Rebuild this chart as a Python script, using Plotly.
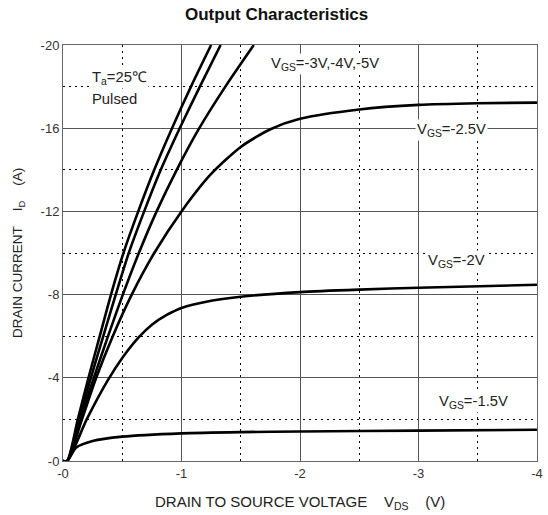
import plotly.graph_objects as go

# V_DS (V) and I_D (A), one pair of lists per V_GS curve
vds_15 = [0, -0.035, -0.11, -0.25, -0.5, -1.0, -1.5, -2.0, -3.0, -4.0]
id_15 = [0, 0, -0.64, -0.96, -1.17, -1.33, -1.39, -1.42, -1.46, -1.5]

vds_20 = [0, -0.035, -0.2, -0.375, -0.5, -0.64, -0.75, -0.875, -1.0, -1.25, -1.5, -2.0, -2.5, -3.0, -4.0]
id_20 = [0, 0, -2.0, -3.85, -4.95, -5.95, -6.55, -7.02, -7.36, -7.7, -7.9, -8.12, -8.24, -8.33, -8.47]

vds_25 = [0, -0.035, -0.16, -0.28, -0.42, -0.58, -0.77, -1.0, -1.25, -1.5, -1.75, -2.0, -2.5, -3.0, -3.5, -4.0]
id_25 = [0, 0, -2.0, -4.0, -6.0, -8.0, -10.0, -12.0, -13.8, -15.1, -15.95, -16.45, -16.9, -17.12, -17.2, -17.23]

vds_30 = [0, -0.035, -0.145, -0.26, -0.38, -0.505, -0.64, -0.79, -0.96, -1.15, -1.37, -1.61]
id_30 = [0, 0, -2.0, -4.0, -6.0, -8.0, -10.0, -12.0, -14.0, -16.0, -18.0, -20.0]

vds_40 = [0, -0.035, -0.135, -0.235, -0.34, -0.445, -0.555, -0.685, -0.825, -0.985, -1.155, -1.33]
id_40 = [0, 0, -2.0, -4.0, -6.0, -8.0, -10.0, -12.0, -14.0, -16.0, -18.0, -20.0]

vds_50 = [0, -0.035, -0.125, -0.215, -0.31, -0.405, -0.51, -0.635, -0.77, -0.92, -1.08, -1.25]
id_50 = [0, 0, -2.0, -4.0, -6.0, -8.0, -10.0, -12.0, -14.0, -16.0, -18.0, -20.0]

x_ticks = [0, -1, -2, -3, -4]
x_tick_text = ["-0", "-1", "-2", "-3", "-4"]
y_ticks = [0, -4, -8, -12, -16, -20]
y_tick_text = ["-0", "-4", "-8", "-12", "-16", "-20"]

FONT = "Liberation Sans, Arial, sans-serif"
NB = "\u00a0"

fig = go.Figure()
for xs, ys, name in [
    (vds_15, id_15, "VGS=-1.5V"),
    (vds_20, id_20, "VGS=-2V"),
    (vds_25, id_25, "VGS=-2.5V"),
    (vds_30, id_30, "VGS=-3V"),
    (vds_40, id_40, "VGS=-4V"),
    (vds_50, id_50, "VGS=-5V"),
]:
    fig.add_trace(go.Scatter(
        x=xs, y=ys, mode="lines", name=name,
        line=dict(color="black", width=2.6, shape="spline", smoothing=0.7),
        showlegend=False, cliponaxis=True, hoverinfo="skip",
    ))

axis_common = dict(
    showline=True, linecolor="#666", linewidth=1, mirror=True,
    showgrid=True, gridcolor="#555", gridwidth=1,
    zeroline=False, ticks="", ticklabeloverflow="allow",
    tickfont=dict(family=FONT, size=13, color="#333"),
)

fig.update_xaxes(
    range=[0, -4], tickvals=x_ticks, ticktext=x_tick_text,
    minor=dict(dtick=0.5, showgrid=True, gridcolor="black", griddash="2px,4px", gridwidth=1),
    **axis_common,
)
fig.update_yaxes(
    range=[0, -20], tickvals=y_ticks, ticktext=y_tick_text,
    minor=dict(dtick=2, showgrid=True, gridcolor="black", griddash="2px,4px", gridwidth=1),
    **axis_common,
)

def lab(text, x, y, bg=True, size=14.8):
    fig.add_annotation(
        text=text, x=x, y=y, xref="x", yref="y", showarrow=False,
        font=dict(family=FONT, size=size, color="#222"),
        bgcolor="white" if bg else "rgba(0,0,0,0)", borderpad=1,
        xanchor="center", yanchor="middle",
    )

lab("T<sub>a</sub>=25℃", -0.48, -18.4)
lab("Pulsed", -0.435, -17.4)
lab("V<sub>GS</sub>=-3V,-4V,-5V", -2.21, -19.1)
lab("V<sub>GS</sub>=-2.5V", -3.28, -15.9)
lab("V<sub>GS</sub>=-2V", -3.32, -9.6)
lab("V<sub>GS</sub>=-1.5V", -3.46, -2.85)

fig.add_annotation(
    text="Output Characteristics", xref="paper", yref="paper", x=0.45, y=1.0,
    yshift=31, showarrow=False, xanchor="center", yanchor="middle",
    font=dict(family=FONT, size=17, color="#111", weight="bold"),
)
fig.add_annotation(
    text=f"DRAIN TO SOURCE VOLTAGE{NB*4}V<sub>DS</sub>{NB*4}(V)",
    xref="paper", yref="paper", x=0.5, y=0, yshift=-41, showarrow=False,
    xanchor="center", yanchor="middle",
    font=dict(family=FONT, size=15, color="#222"),
)
fig.add_annotation(
    text=f"DRAIN CURRENT{NB*4}I<sub>D</sub>{NB*4}(A)",
    xref="paper", yref="paper", x=0, y=0.5, xshift=-45, showarrow=False,
    xanchor="center", yanchor="middle", textangle=-90,
    font=dict(family=FONT, size=13.5, color="#222"),
)

fig.update_layout(
    width=548, height=515,
    margin=dict(l=63, r=5, t=45, b=54),
    paper_bgcolor="white", plot_bgcolor="white",
    font=dict(family=FONT),
    hovermode=False,
)

fig.write_html(
    "out.html",
    config={"displayModeBar": False},
    post_script="document.body.style.margin='0';",
)
